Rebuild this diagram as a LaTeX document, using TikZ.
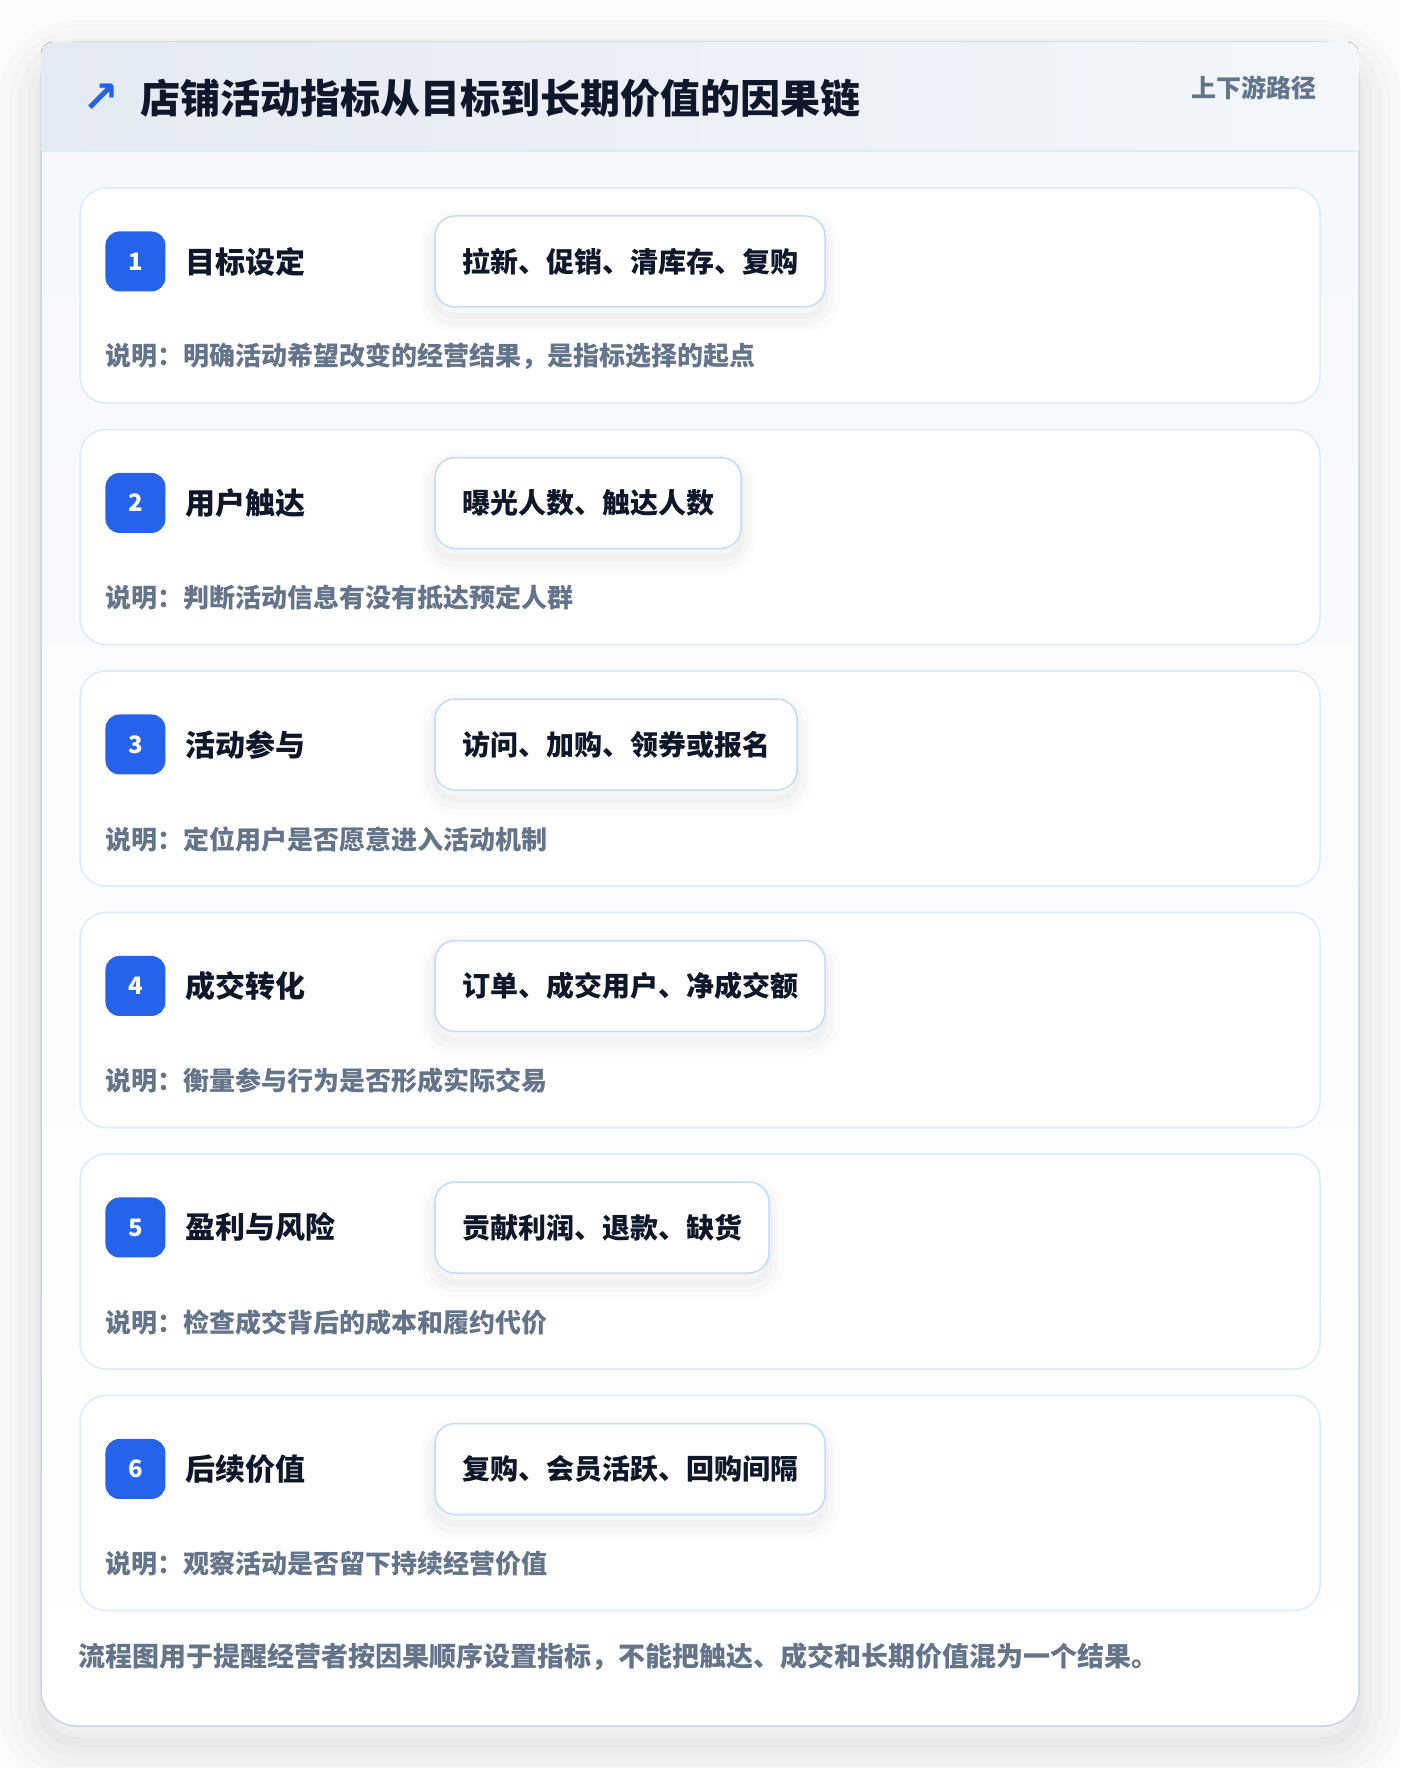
\documentclass[tikz,border=0pt]{standalone}
\usepackage{fontspec}
\setmainfont{Noto Sans CJK SC}
\newfontfamily\symfont{DejaVu Sans}
\usetikzlibrary{positioning}
\definecolor{ink}{HTML}{0F172A}
\definecolor{muted}{HTML}{64748B}
\definecolor{accent}{HTML}{2563EB}
\definecolor{edgeblue}{HTML}{DBEAFE}
\definecolor{boxblue}{HTML}{BFDBFE}
\definecolor{frameline}{HTML}{CBD5E1}
\definecolor{headl}{HTML}{E4EAF3}
\definecolor{headr}{HTML}{F3F6FA}
\definecolor{bodytop}{HTML}{F5F8FC}
\definecolor{pagebg}{HTML}{FBFBFC}

\begin{document}
\begin{tikzpicture} [x=1pt, y=-1pt]
	\tikzset{bigshadow/.style={
		preaction={draw=black, draw opacity=0.01, line width=84pt, transform canvas={yshift=-20pt}},
		preaction={draw=black, draw opacity=0.012, line width=64pt, transform canvas={yshift=-20pt}},
		preaction={draw=black, draw opacity=0.014, line width=44pt, transform canvas={yshift=-19pt}},
		preaction={draw=black, draw opacity=0.016, line width=26pt, transform canvas={yshift=-18pt}},
		preaction={draw=black, draw opacity=0.02, line width=10pt, transform canvas={yshift=-16pt}}}}
	\tikzset{softshadow/.style={
		preaction={draw=black, draw opacity=0.015, line width=30pt, transform canvas={yshift=-10pt}},
		preaction={draw=black, draw opacity=0.018, line width=18pt, transform canvas={yshift=-10pt}},
		preaction={draw=black, draw opacity=0.02, line width=7pt, transform canvas={yshift=-9pt}}}}
	\tikzset{frame/.style={draw=frameline, line width=1.5pt, rounded corners=36pt, top color=bodytop, bottom color=white,
		minimum width=1318pt, minimum height=1684pt, inner sep=0pt, bigshadow}}
	\tikzset{card/.style={draw=edgeblue, line width=1.5pt, fill=white, rounded corners=26pt,
		minimum width=1240pt, minimum height=215pt, inner sep=0pt}}
	\tikzset{badge/.style={fill=accent, text=white, rounded corners=14pt, minimum size=60pt, inner sep=0pt,
		font=\fontsize{24}{28}\selectfont\bfseries}}
	\tikzset{stage/.style={text=ink, inner sep=0pt, font=\fontsize{30}{36}\selectfont\bfseries}}
	\tikzset{metric/.style={draw=boxblue, line width=1.5pt, fill=white, rounded corners=20pt, text=ink,
		minimum height=91pt, inner xsep=27pt, font=\fontsize{28}{34}\selectfont\bfseries, softshadow}}
	\tikzset{note/.style={text=muted, inner sep=0pt, font=\fontsize{26}{32}\selectfont\bfseries}}

	\useasboundingbox (0,0) rectangle (1400,1768);
	\fill[pagebg] (0,0) rectangle (1400,1768);

	% outer frame and header band
	\node[frame] (frame) at (700,884) {};
	\begin{scope}
		\clip[rounded corners=12pt] (41,42) rectangle (1359,300);
		\fill[left color=headl, right color=headr] (41,42) rectangle (1359,151);
	\end{scope}
	\draw[edgeblue, line width=2pt] (41.75,151) -- (1358.25,151);

	\node[text=ink, inner sep=0pt, anchor=west, font=\fontsize{40}{46}\selectfont\bfseries] (title) at (140,98) {店铺活动指标从目标到长期价值的因果链};
	\node[text=accent, inner sep=0pt, font=\symfont\fontsize{44}{50}\selectfont\bfseries] (icon) [left=20pt of title] {↗};
	\node[text=muted, inner sep=0pt, anchor=east, font=\fontsize{25}{30}\selectfont\bfseries] (tag) at (1317,88) {上下游路径};

	% the six stages
	\node[card]		(c1) at (700,295.5)		{};
	\node[card]		(c2) [below=25pt of c1]	{};
	\node[card]		(c3) [below=25pt of c2]	{};
	\node[card]		(c4) [below=25pt of c3]	{};
	\node[card]		(c5) [below=25pt of c4]	{};
	\node[card]		(c6) [below=25pt of c5]	{};

	\node[badge]	(b1) [below right=44pt and 26pt of c1.north west]	{1};
	\node[stage]	(n1) [right=20pt of b1]								{目标设定};
	\node[metric]	(m1) [below right=28pt and 355pt of c1.north west]	{拉新、促销、清库存、复购};
	\node[note]		(d1) [below right=169pt and 26pt of c1.north west, anchor=west]	{说明：明确活动希望改变的经营结果，是指标选择的起点};

	\node[badge]	(b2) [below right=44pt and 26pt of c2.north west]	{2};
	\node[stage]	(n2) [right=20pt of b2]								{用户触达};
	\node[metric]	(m2) [below right=28pt and 355pt of c2.north west]	{曝光人数、触达人数};
	\node[note]		(d2) [below right=169pt and 26pt of c2.north west, anchor=west]	{说明：判断活动信息有没有抵达预定人群};

	\node[badge]	(b3) [below right=44pt and 26pt of c3.north west]	{3};
	\node[stage]	(n3) [right=20pt of b3]								{活动参与};
	\node[metric]	(m3) [below right=28pt and 355pt of c3.north west]	{访问、加购、领券或报名};
	\node[note]		(d3) [below right=169pt and 26pt of c3.north west, anchor=west]	{说明：定位用户是否愿意进入活动机制};

	\node[badge]	(b4) [below right=44pt and 26pt of c4.north west]	{4};
	\node[stage]	(n4) [right=20pt of b4]								{成交转化};
	\node[metric]	(m4) [below right=28pt and 355pt of c4.north west]	{订单、成交用户、净成交额};
	\node[note]		(d4) [below right=169pt and 26pt of c4.north west, anchor=west]	{说明：衡量参与行为是否形成实际交易};

	\node[badge]	(b5) [below right=44pt and 26pt of c5.north west]	{5};
	\node[stage]	(n5) [right=20pt of b5]								{盈利与风险};
	\node[metric]	(m5) [below right=28pt and 355pt of c5.north west]	{贡献利润、退款、缺货};
	\node[note]		(d5) [below right=169pt and 26pt of c5.north west, anchor=west]	{说明：检查成交背后的成本和履约代价};

	\node[badge]	(b6) [below right=44pt and 26pt of c6.north west]	{6};
	\node[stage]	(n6) [right=20pt of b6]								{后续价值};
	\node[metric]	(m6) [below right=28pt and 355pt of c6.north west]	{复购、会员活跃、回购间隔};
	\node[note]		(d6) [below right=169pt and 26pt of c6.north west, anchor=west]	{说明：观察活动是否留下持续经营价值};

	\node[note, font=\fontsize{27}{33}\selectfont\bfseries] (foot) [below right=46pt and -1pt of c6.south west, anchor=west]	{流程图用于提醒经营者按因果顺序设置指标，不能把触达、成交和长期价值混为一个结果。};
\end{tikzpicture}
\end{document}
